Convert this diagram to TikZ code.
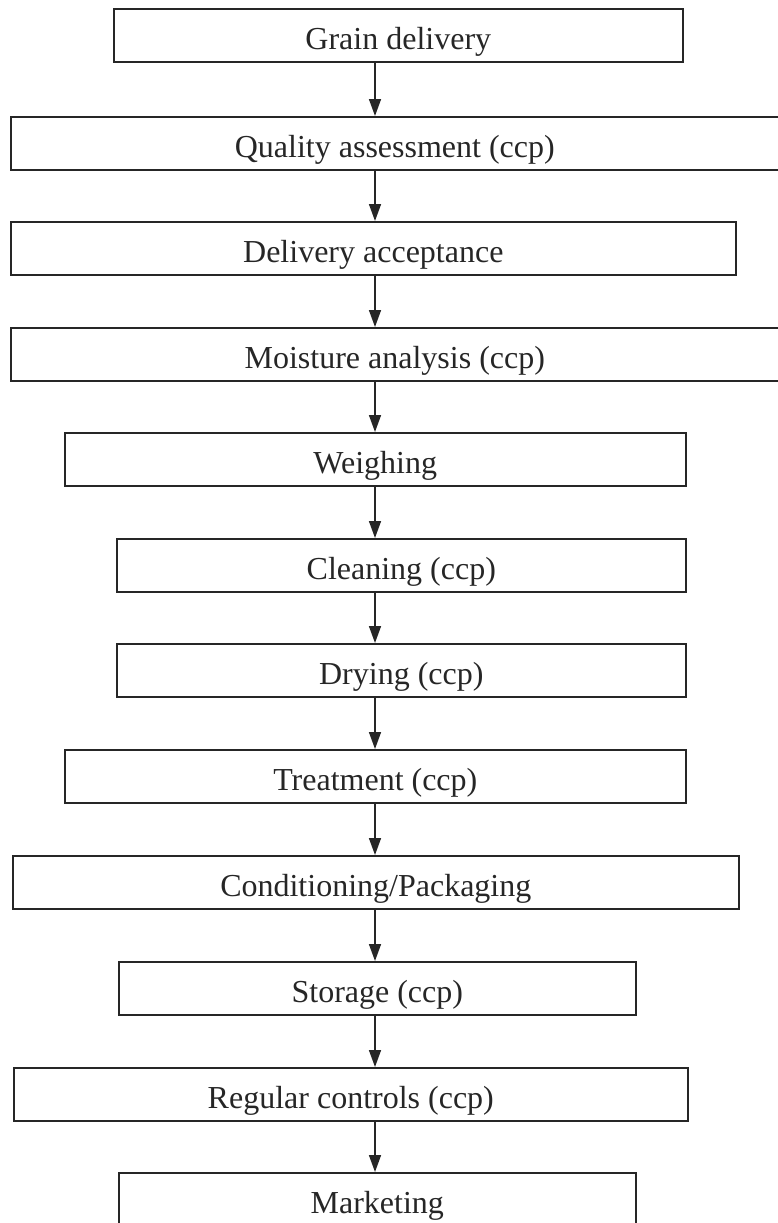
\documentclass[tikz,border=0pt]{standalone}
\usepackage{fontspec}
\setmainfont{Liberation Serif}
\usetikzlibrary{arrows.meta}

\begin{document}
\begin{tikzpicture}[x=1pt,y=-1pt,
stepbox/.style={draw=black!85,line width=1.6pt,minimum height=53pt,inner sep=0pt,
  anchor=north west,text height=29pt,text depth=0pt,text=black!85,
  font=\fontsize{32}{32}\selectfont},
flow/.style={draw=black!85,line width=1.6pt,-{Triangle[length=17pt,width=12pt]}}]
\useasboundingbox (0,0) rectangle (777,1223);
\coordinate (spine) at (375,0);

    % boxes: name / left / right / top / text
    \foreach \nm/\lx/\rx/\ty/\txt in {
      grain/113/682/8/{Grain delivery},
      quality/10/778/116/{Quality assessment (ccp)},
      accept/10/735/221/{Delivery acceptance},
      moisture/10/778/327/{Moisture analysis (ccp)},
      weigh/64/685/432/{Weighing},
      clean/116/685/538/{Cleaning (ccp)},
      dry/116/685/643/{Drying (ccp)},
      treat/64/685/749/{Treatment (ccp)},
      pack/12/738/855/{Conditioning/Packaging},
      store/118/635/961/{Storage (ccp)},
      controls/13/687/1067/{Regular controls (ccp)},
      market/118/635/1172/{Marketing}}
    {
      \pgfmathsetmacro\boxw{\rx-\lx}
      \node[stepbox,minimum width=\boxw pt] (\nm) at (\lx,\ty) {\txt};
    }

    % arrows down the spine
    \foreach \a/\b in {grain/quality,quality/accept,accept/moisture,
      moisture/weigh,weigh/clean,clean/dry,dry/treat,treat/pack,
      pack/store,store/controls,controls/market}
      \draw[flow] (\a.south -| spine) -- (\b.north -| spine);

\end{tikzpicture}
\end{document}
